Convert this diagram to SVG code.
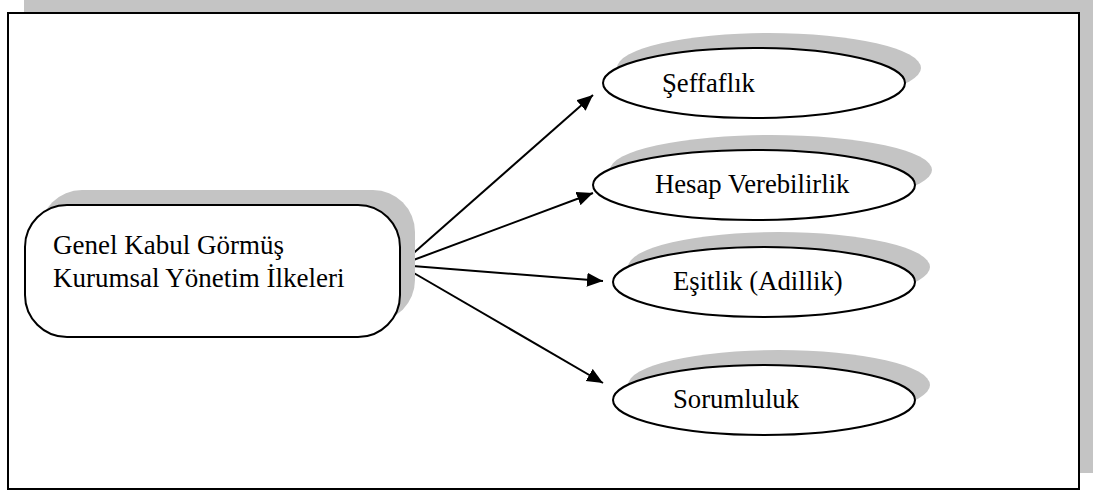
<svg xmlns="http://www.w3.org/2000/svg" width="1093" height="490" viewBox="0 0 1093 490">
<style>
.shadow{fill:#c4c4c4;stroke:none}
.node{fill:#ffffff;stroke:#000;stroke-width:2}
.lbl{font-family:"Liberation Serif","Times New Roman",serif;font-size:26.7px;fill:#000}
.conn{stroke:#000;stroke-width:2;fill:none;marker-end:url(#arr)}
</style>
<defs>
<marker id="arr" markerUnits="userSpaceOnUse" markerWidth="17" markerHeight="15" refX="16" refY="7" orient="auto">
<path d="M0,0 L16,7 L0,14 Z" fill="#000"/>
</marker>
</defs>
<g id="frame">
<rect class="shadow" x="24" y="0" width="1069" height="473"/>
<rect x="8" y="13" width="1071" height="476" fill="#fff" stroke="#000" stroke-width="2"/>
</g>
<g id="connectors">
<line class="conn" x1="400" y1="265" x2="593" y2="95"/>
<line class="conn" x1="400" y1="265" x2="593" y2="193"/>
<line class="conn" x1="400" y1="265" x2="603" y2="281"/>
<line class="conn" x1="400" y1="265" x2="603" y2="383"/>
</g>
<g id="main">
<rect class="shadow" x="40" y="190" width="375" height="132" rx="42"/>
<rect class="node" x="25" y="205" width="375" height="132" rx="42"/>
<text class="lbl" x="53" y="254" style="font-size:27px">Genel Kabul Görmüş</text>
<text class="lbl" x="53" y="287" style="font-size:27px">Kurumsal Yönetim İlkeleri</text>
</g>
<g id="seffaflik">
<ellipse class="shadow" cx="769" cy="68" rx="152" ry="35"/>
<ellipse class="node" cx="754" cy="83" rx="151" ry="35"/>
<text class="lbl" x="662" y="92">Şeffaflık</text>
</g>
<g id="hesap">
<ellipse class="shadow" cx="771" cy="170" rx="161" ry="35"/>
<ellipse class="node" cx="754" cy="185" rx="161" ry="35"/>
<text class="lbl" x="655" y="193">Hesap Verebilirlik</text>
</g>
<g id="esitlik">
<ellipse class="shadow" cx="779" cy="267" rx="151" ry="35"/>
<ellipse class="node" cx="764" cy="282" rx="151" ry="35"/>
<text class="lbl" x="673" y="290">Eşitlik (Adillik)</text>
</g>
<g id="sorumluluk">
<ellipse class="shadow" cx="779" cy="385" rx="151" ry="35"/>
<ellipse class="node" cx="764" cy="400" rx="151" ry="35"/>
<text class="lbl" x="673" y="408">Sorumluluk</text>
</g>
</svg>
